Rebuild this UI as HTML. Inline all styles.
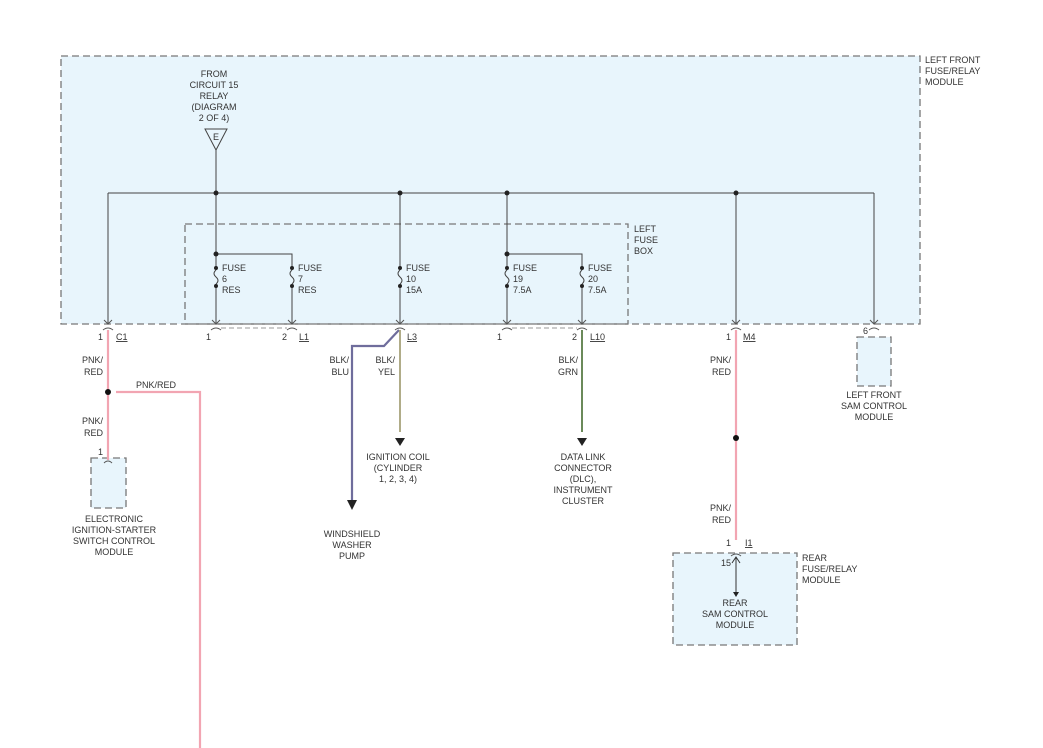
<!DOCTYPE html>
<html><head><meta charset="utf-8"><style>
html,body{margin:0;padding:0;background:#fff}
svg{display:block}
text{font-family:"Liberation Sans",sans-serif;font-size:9px;fill:#333}
.c{text-anchor:middle}
.r{text-anchor:end}
</style></head><body>
<svg width="1043" height="748" viewBox="0 0 1043 748" xmlns="http://www.w3.org/2000/svg">
<g stroke="#777" stroke-width="1.3" stroke-dasharray="7,4" fill="#e8f5fc">
<rect x="61" y="56" width="859" height="268"/>
<rect x="91" y="458" width="35" height="50"/>
<rect x="857" y="337" width="34" height="49"/>
<rect x="673" y="553" width="124" height="92"/>
</g>
<rect x="185" y="224" width="443" height="100" fill="none" stroke="#777" stroke-width="1.3" stroke-dasharray="7,4"/>
<g stroke="#444" stroke-width="1" fill="none">
<path d="M108 193H874M108 193V324M874 193V324M216 150V324M400 193V324M507 193V324M736 193V324M216 254H292V324M507 254H582V324"/>
<path d="M205 129H227L216 150Z"/>
</g>
<text x="216" y="140" class="c">E</text>
<g fill="#222">
<circle cx="216" cy="193" r="2.5"/><circle cx="400" cy="193" r="2.5"/><circle cx="507" cy="193" r="2.5"/><circle cx="736" cy="193" r="2.5"/>
<circle cx="216" cy="254" r="2.5"/><circle cx="507" cy="254" r="2.5"/>
</g>
<!-- fuses -->
<g>
<g fill="#222"><circle cx="216" cy="268" r="2"/><circle cx="216" cy="286" r="2"/><circle cx="292" cy="268" r="2"/><circle cx="292" cy="286" r="2"/><circle cx="400" cy="268" r="2"/><circle cx="400" cy="286" r="2"/><circle cx="507" cy="268" r="2"/><circle cx="507" cy="286" r="2"/><circle cx="582" cy="268" r="2"/><circle cx="582" cy="286" r="2"/></g>
<g fill="#e8f5fc" stroke="none"><rect x="213" y="270" width="6" height="14"/><rect x="289" y="270" width="6" height="14"/><rect x="397" y="270" width="6" height="14"/><rect x="504" y="270" width="6" height="14"/><rect x="579" y="270" width="6" height="14"/></g>
<g stroke="#444" fill="none"><path d="M216 270q-4 3.5 0 7q4 3.5 0 7"/><path d="M292 270q-4 3.5 0 7q4 3.5 0 7"/><path d="M400 270q-4 3.5 0 7q4 3.5 0 7"/><path d="M507 270q-4 3.5 0 7q4 3.5 0 7"/><path d="M582 270q-4 3.5 0 7q4 3.5 0 7"/></g>
</g>
<text x="222" y="271">FUSE</text><text x="222" y="282">6</text><text x="222" y="293">RES</text>
<text x="298" y="271">FUSE</text><text x="298" y="282">7</text><text x="298" y="293">RES</text>
<text x="406" y="271">FUSE</text><text x="406" y="282">10</text><text x="406" y="293">15A</text>
<text x="513" y="271">FUSE</text><text x="513" y="282">19</text><text x="513" y="293">7.5A</text>
<text x="588" y="271">FUSE</text><text x="588" y="282">20</text><text x="588" y="293">7.5A</text>
<!-- connectors -->
<g stroke="#555" fill="none" stroke-width="1">
<path d="M104 320L108 324L112 320M103 330q5 -4 10 0"/>
<path d="M212 320L216 324L220 320M211 330q5 -4 10 0"/>
<path d="M288 320L292 324L296 320M287 330q5 -4 10 0"/>
<path d="M396 320L400 324L404 320M395 330q5 -4 10 0"/>
<path d="M503 320L507 324L511 320M502 330q5 -4 10 0"/>
<path d="M578 320L582 324L586 320M577 330q5 -4 10 0"/>
<path d="M732 320L736 324L740 320M731 330q5 -4 10 0"/>
<path d="M870 320L874 324L878 320M869 330q5 -4 10 0"/>
<path d="M104 463q4 -4 8 0"/>
<path d="M731 556q5 -4 10 0"/>
</g>
<path d="M221 328H287M512 328H577" stroke="#999" stroke-dasharray="5,3"/>
<text x="103" y="340" class="r">1</text><text x="116" y="340" text-decoration="underline">C1</text>
<text x="211" y="340" class="r">1</text>
<text x="287" y="340" class="r">2</text><text x="299" y="340" text-decoration="underline">L1</text>
<text x="407" y="340" text-decoration="underline">L3</text>
<text x="502" y="340" class="r">1</text>
<text x="577" y="340" class="r">2</text><text x="590" y="340" text-decoration="underline">L10</text>
<text x="731" y="340" class="r">1</text><text x="743" y="340" text-decoration="underline">M4</text>
<text x="868" y="334" class="r">6</text>
<text x="103" y="455" class="r">1</text>
<text x="731" y="546" class="r">1</text><text x="745" y="546" text-decoration="underline">I1</text>
<!-- wires -->
<g fill="none" stroke-width="2.2">
<path d="M108 330V460M116 392H200V748" stroke="#f2a5b2"/>
<path d="M736 330V540" stroke="#f2a5b2"/>
<path d="M399 330L384 346H352V500" stroke="#6f6d9c"/>
<path d="M400 330V432" stroke="#a8a27a" stroke-width="1.8"/>
<path d="M582 330V432" stroke="#6b8a5a" stroke-width="2"/>
</g>
<circle cx="108" cy="392" r="3" fill="#111"/>
<circle cx="736" cy="438" r="3" fill="#111"/>
<g fill="#222">
<path d="M347 500H357L352 510Z"/><path d="M395 438H405L400 446Z"/><path d="M577 438H587L582 446Z"/>
</g>
<path d="M736 558V595" stroke="#333"/><path d="M732 563L736 557L740 563" stroke="#333" fill="none"/><path d="M733 592H739L736 597Z" fill="#222"/>
<!-- labels -->
<g class="c">
<text x="214" y="77" class="c">FROM</text><text x="214" y="88" class="c">CIRCUIT 15</text><text x="214" y="99" class="c">RELAY</text><text x="214" y="110" class="c">(DIAGRAM</text><text x="214" y="121" class="c">2 OF 4)</text>
</g>
<text x="925" y="63">LEFT FRONT</text><text x="925" y="74">FUSE/RELAY</text><text x="925" y="85">MODULE</text>
<text x="634" y="232">LEFT</text><text x="634" y="243">FUSE</text><text x="634" y="254">BOX</text>
<text x="103" y="363" class="r">PNK/</text><text x="103" y="375" class="r">RED</text>
<text x="103" y="424" class="r">PNK/</text><text x="103" y="436" class="r">RED</text>
<text x="136" y="388">PNK/RED</text>
<text x="349" y="363" class="r">BLK/</text><text x="349" y="375" class="r">BLU</text>
<text x="395" y="363" class="r">BLK/</text><text x="395" y="375" class="r">YEL</text>
<text x="578" y="363" class="r">BLK/</text><text x="578" y="375" class="r">GRN</text>
<text x="731" y="363" class="r">PNK/</text><text x="731" y="375" class="r">RED</text>
<text x="731" y="511" class="r">PNK/</text><text x="731" y="523" class="r">RED</text>
<text x="114" y="522" class="c">ELECTRONIC</text><text x="114" y="533" class="c">IGNITION-STARTER</text><text x="114" y="544" class="c">SWITCH CONTROL</text><text x="114" y="555" class="c">MODULE</text>
<text x="352" y="537" class="c">WINDSHIELD</text><text x="352" y="548" class="c">WASHER</text><text x="352" y="559" class="c">PUMP</text>
<text x="398" y="460" class="c">IGNITION COIL</text><text x="398" y="471" class="c">(CYLINDER</text><text x="398" y="482" class="c">1, 2, 3, 4)</text>
<text x="583" y="460" class="c">DATA LINK</text><text x="583" y="471" class="c">CONNECTOR</text><text x="583" y="482" class="c">(DLC),</text><text x="583" y="493" class="c">INSTRUMENT</text><text x="583" y="504" class="c">CLUSTER</text>
<text x="874" y="398" class="c">LEFT FRONT</text><text x="874" y="409" class="c">SAM CONTROL</text><text x="874" y="420" class="c">MODULE</text>
<text x="731" y="566" class="r">15</text>
<text x="735" y="606" class="c">REAR</text><text x="735" y="617" class="c">SAM CONTROL</text><text x="735" y="628" class="c">MODULE</text>
<text x="802" y="561">REAR</text><text x="802" y="572">FUSE/RELAY</text><text x="802" y="583">MODULE</text>
</svg>
</body></html>
